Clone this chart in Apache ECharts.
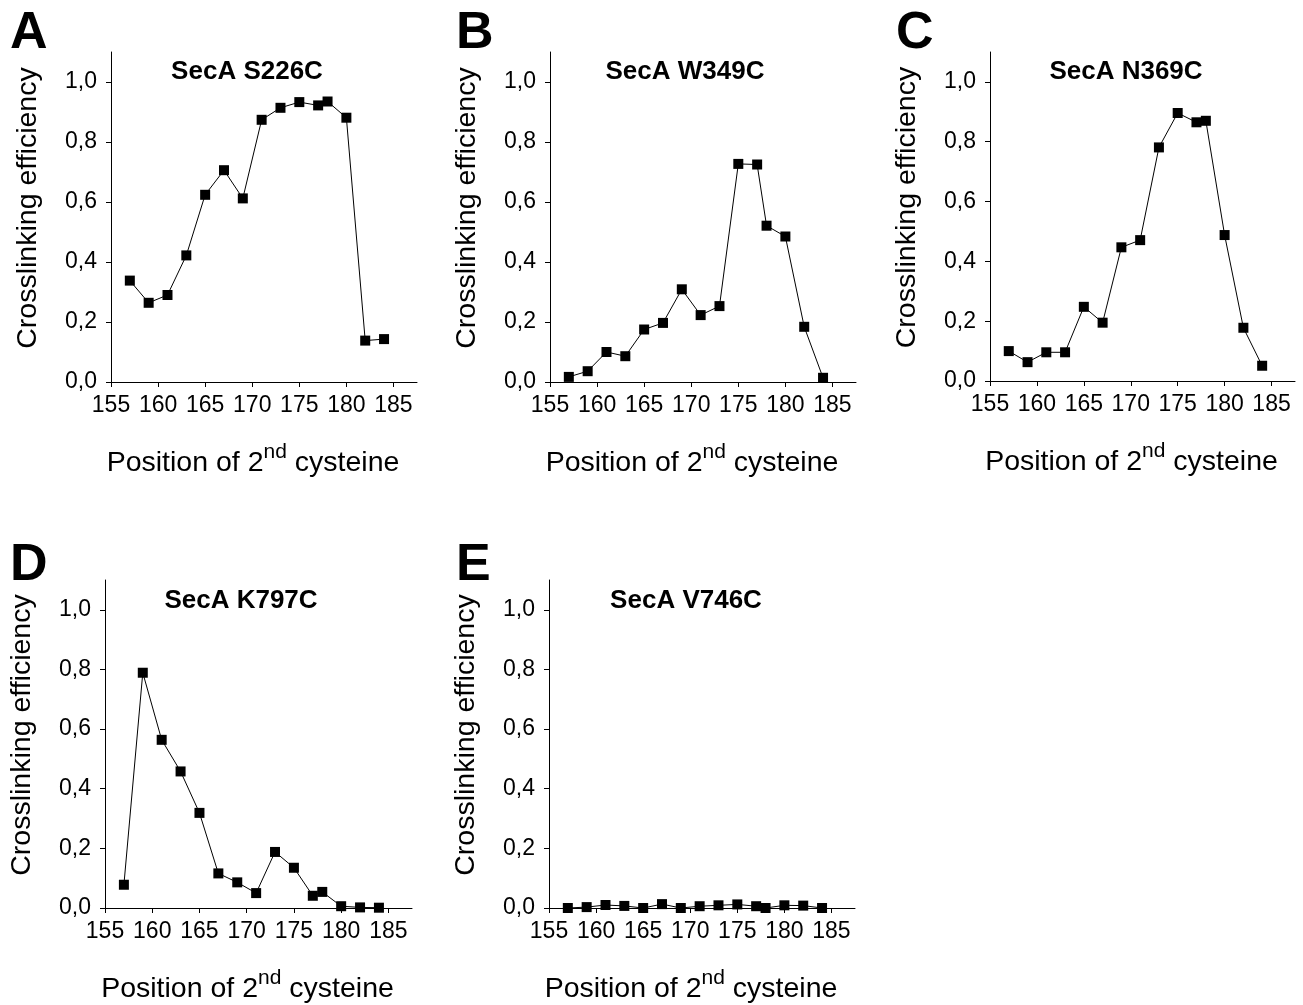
<!DOCTYPE html>
<html>
<head>
<meta charset="utf-8">
<script src="https://cdn.jsdelivr.net/npm/echarts@6/dist/echarts.min.js"></script>
<style>
html,body{margin:0;padding:0;background:#fff;}
#chart{width:1303px;height:1005px;}
</style>
</head>
<body>
<div id="chart"></div>
<script>
// ---- data ----
var positions = [157,159,161,163,165,167,169,171,173,175,177,178,180,182,184];
var s226c = [0.338,0.264,0.290,0.422,0.624,0.706,0.612,0.874,0.914,0.933,0.922,0.935,0.881,0.138,0.143];
var w349c = [0.017,0.036,0.100,0.086,0.175,0.197,0.309,0.223,0.253,0.727,0.725,0.521,0.485,0.184,0.014];
var n369c = [0.100,0.063,0.096,0.096,0.248,0.195,0.447,0.471,0.781,0.896,0.865,0.870,0.488,0.178,0.051];
var k797c = [0.078,0.789,0.564,0.458,0.319,0.116,0.086,0.050,0.188,0.135,0.041,0.054,0.006,0.002,0.001];
var v746c = [0.000,0.003,0.010,0.007,0.000,0.013,0.000,0.006,0.009,0.012,0.006,0.000,0.009,0.008,0.000];
var panelLetters = ['A','B','C','D','E'];
var panelTitles = ['SecA S226C','SecA W349C','SecA N369C','SecA K797C','SecA V746C'];
var xTicks = [155,160,165,170,175,180,185];
var yTicks = [0,0.2,0.4,0.6,0.8,1.0];
var xAxisTitle = ['Position of 2','nd',' cysteine'];
var yAxisTitle = 'Crosslinking efficiency';

var seriesValues = [s226c, w349c, n369c, k797c, v746c];

// ---- layout ----
var grids = [
  {left:111, top:52,  width:306, height:330},
  {left:550, top:52,  width:306, height:330},
  {left:990, top:52,  width:305, height:329},
  {left:105, top:580, width:307, height:329},
  {left:549, top:580, width:306, height:328}
];
var letterPos = [[10,8],[456,8],[896,8],[10,540],[456,540]];
var titlePos = [[247,59],[685,59],[1126,59],[241,588],[686,588]];

var FONT = '"Liberation Sans", Arial, sans-serif';
var chart = echarts.init(document.getElementById('chart'), null, {renderer:'canvas'});

var option = {
  backgroundColor:'#ffffff',
  animation:false,
  title:[],
  grid:[],
  xAxis:[],
  yAxis:[],
  series:[]
};

function fmt(v){ return v.toFixed(1).replace('.', ','); }

for (var i=0;i<5;i++){
  option.grid.push({left:grids[i].left, top:grids[i].top, width:grids[i].width, height:grids[i].height, containLabel:false});
  option.title.push({
    text: panelLetters[i], left: letterPos[i][0], top: letterPos[i][1],
    textStyle:{fontFamily:FONT, fontWeight:'bold', fontSize:52, color:'#000'}, padding:0
  });
  option.title.push({
    text: panelTitles[i], left: titlePos[i][0], top: titlePos[i][1], textAlign:'center',
    textStyle:{fontFamily:FONT, fontWeight:'bold', fontSize:26, color:'#000'}, padding:0
  });
  option.xAxis.push({
    type:'value', gridIndex:i, min:155, max:187.5,
    axisLine:{show:true, onZero:false, lineStyle:{color:'#000', width:1}},
    axisTick:{show:true, inside:false, length:5, customValues:xTicks, lineStyle:{color:'#000', width:1}},
    axisLabel:{show:true, customValues:xTicks, margin:12, fontFamily:FONT, fontSize:23, color:'#000',
      formatter:function(v){return String(v);}},
    splitLine:{show:false},
    name: '{a|'+xAxisTitle[0]+'}{s|'+xAxisTitle[1]+'}{a|'+xAxisTitle[2]+'}',
    nameLocation:'middle', nameGap:60,
    nameTextStyle:{
      padding:[0,22,0,0],
      rich:{
        a:{fontFamily:FONT, fontSize:28.5, color:'#000', verticalAlign:'bottom', lineHeight:36},
        s:{fontFamily:FONT, fontSize:21, color:'#000', verticalAlign:'bottom', lineHeight:36, padding:[0,0,15,0]}
      }
    }
  });
  option.yAxis.push({
    type:'value', gridIndex:i, min:0, max:1.1,
    axisLine:{show:true, onZero:false, lineStyle:{color:'#000', width:1}},
    axisTick:{show:true, inside:false, length:5, customValues:yTicks, lineStyle:{color:'#000', width:1}},
    axisLabel:{show:true, customValues:yTicks, margin:14, fontFamily:FONT, fontSize:23, color:'#000', formatter:fmt},
    splitLine:{show:false},
    name: yAxisTitle, nameLocation:'middle', nameGap:68, nameRotate:90,
    nameTextStyle:{fontFamily:FONT, fontSize:28.5, color:'#000', padding:[0,0,0,18]}
  });
  var data = [];
  for (var j=0;j<positions.length;j++) data.push([positions[j], seriesValues[i][j]]);
  option.series.push({
    type:'line', xAxisIndex:i, yAxisIndex:i, data:data,
    symbol:'rect', symbolSize:10, showAllSymbol:true,
    lineStyle:{color:'#000', width:1},
    itemStyle:{color:'#000', borderWidth:0},
    emphasis:{disabled:true}
  });
}

chart.setOption(option);
</script>
</body>
</html>
